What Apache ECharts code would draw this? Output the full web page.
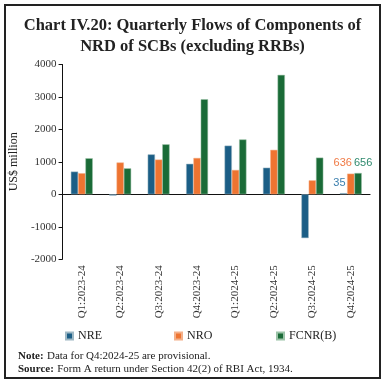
<!DOCTYPE html>
<html><head><meta charset="utf-8">
<script src="https://cdn.jsdelivr.net/npm/echarts@6/dist/echarts.min.js"></script>
<style>html,body{margin:0;padding:0;background:#fff}#c{width:385px;height:387px}</style>
</head><body><div id="c"></div>
<script>
const categories = ['Q1:2023-24','Q2:2023-24','Q3:2023-24','Q4:2023-24','Q1:2024-25','Q2:2024-25','Q3:2024-25','Q4:2024-25'];
const nre = [700, -40, 1230, 940, 1500, 820, -1350, 35];
const nro = [650, 980, 1070, 1120, 750, 1370, 430, 636];
const fcnr = [1110, 800, 1540, 2930, 1690, 3680, 1130, 656];
const yTicks = [-2000, -1000, 0, 1000, 2000, 3000, 4000];

const serif = '"Liberation Serif", "DejaVu Serif", serif';
const colors = {NRE:'#1b5e86', NRO:'#ee7431', FCNR:'#1a6b37'};

function lastLabel(color, dx) {
  return {
    show: true, position: 'top', color: color, fontSize: 11, fontFamily: '"Liberation Sans", sans-serif',
    offset: [dx, 0],
    formatter: p => p.dataIndex === categories.length - 1 ? String(p.value) : ''
  };
}

const chart = echarts.init(document.getElementById('c'));
chart.setOption({
  animation: false,
  backgroundColor: '#fff',
  title: {
    text: 'Chart IV.20: Quarterly Flows of Components of\nNRD of SCBs (excluding RRBs)',
    left: 'center', top: 10,
    textStyle: {fontFamily: serif, fontWeight: 'bold', fontSize: 16.5, lineHeight: 21, color: '#222'}
  },
  graphic: [
    {type:'rect', shape:{x:5, y:5, width:375, height:373}, style:{fill:'none', stroke:'#222', lineWidth:2}, silent:true},
    {type:'text', left:18, top:350, style:{
      rich:{b:{fontWeight:'bold', fontFamily:serif, fontSize:11, fill:'#222'}, n:{fontFamily:serif, fontSize:11, fill:'#222'}},
      text:'{b|Note:} {n|Data for Q4:2024-25 are provisional.}\n{b|Source:} {n|Form A return under Section 42(2) of RBI Act, 1934.}',
      lineHeight: 13
    }}
  ],
  legend: [
    {data:['NRE'], left:60, top:325, itemWidth:7, itemHeight:7, icon:'rect', textStyle:{fontFamily:serif, fontSize:12, color:'#222'}},
    {data:['NRO'], left:169, top:325, itemWidth:7, itemHeight:7, icon:'rect', textStyle:{fontFamily:serif, fontSize:12, color:'#222'}},
    {data:['FCNR(B)'], left:271, top:325, itemWidth:7, itemHeight:7, icon:'rect', textStyle:{fontFamily:serif, fontSize:12, color:'#222'}}
  ],
  grid: {left:60, right:15, top:64.5, bottom:127.8},
  xAxis: [
    {type:'category', data:categories, axisLine:{onZero:true, lineStyle:{color:'#111', width:1.2}},
     axisTick:{alignWithLabel:true, length:5, lineStyle:{color:'#111'}}, axisLabel:{show:false}},
    {type:'category', data:categories, position:'bottom', axisLine:{show:false, onZero:false}, axisTick:{show:false},
     axisLabel:{rotate:90, margin:6, fontFamily:serif, fontSize:11, color:'#333'}}
  ],
  yAxis: {
    type:'value', min:yTicks[0], max:yTicks[yTicks.length-1], interval:1000,
    name:'US$ million', nameLocation:'middle', nameGap:34,
    nameTextStyle:{fontFamily:serif, fontSize:12, color:'#222'},
    axisLine:{show:true, lineStyle:{color:'#111'}}, axisTick:{show:true, length:4, lineStyle:{color:'#111'}},
    splitLine:{show:false},
    axisLabel:{fontFamily:serif, fontSize:11, color:'#333', margin:6, formatter: v => String(v)}
  },
  series: [
    {name:'NRE', type:'bar', data:nre, barWidth:7.3, barGap:'0%', itemStyle:{color:colors.NRE, borderColor:'#9fb8c4', borderWidth:0.5}, label:lastLabel('#3b7fae', -4)},
    {name:'NRO', type:'bar', data:nro, barWidth:7.3, barGap:'0%', itemStyle:{color:colors.NRO, borderColor:'#f3b08a', borderWidth:0.5}, label:lastLabel('#f07a45', -8)},
    {name:'FCNR(B)', type:'bar', data:fcnr, barWidth:7.3, barGap:'0%', itemStyle:{color:colors.FCNR, borderColor:'#9cc3a8', borderWidth:0.5}, label:lastLabel('#2f8a6e', 5)}
  ]
});
</script></body></html>
